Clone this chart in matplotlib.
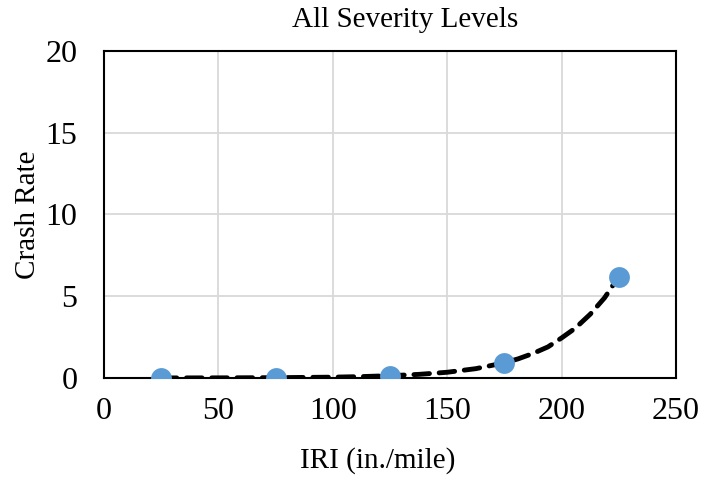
import numpy as np
import matplotlib.pyplot as plt

# IRI bins and crash rates (all severity levels)
iri = [25, 75, 125, 175, 225]
crash_rate = [0.01, 0.02, 0.12, 0.9, 6.2]

# exponential trend line
trend_x = [25, 50, 75, 100, 112.5, 125, 137.5, 150, 162.5, 175, 181, 187.5, 194, 200,
           206, 212.5, 218.75, 225]
trend_y = [0.003, 0.008, 0.02, 0.05, 0.085, 0.14, 0.22, 0.35, 0.57, 0.93, 1.17, 1.5, 1.9,
           2.45, 3.05, 3.9, 4.9, 6.2]

plt.rcParams['font.family'] = ['Liberation Serif', 'DejaVu Serif']

fig = plt.figure(figsize=(7.05, 4.82), dpi=100)
ax = fig.add_axes([0.1475, 0.2158, 0.8114, 0.6784])

ax.plot(trend_x, trend_y, color='black', linewidth=3.5, linestyle=(0, (3.2, 2.0)),
        dash_capstyle='round', zorder=3)
ax.plot(iri, crash_rate, 'o', color='#5b9bd5', markersize=15, markeredgewidth=0, zorder=4)

ax.set_xlim(0, 250)
ax.set_ylim(0, 20)
ax.set_xticks(np.arange(0, 251, 50))
ax.set_yticks(np.arange(0, 21, 5))
ax.grid(True, color='#d9d9d9', linewidth=1.3)
ax.set_axisbelow(True)
for s in ax.spines.values():
    s.set_color('black')
    s.set_linewidth(1.5)
ax.tick_params(axis='both', length=0, labelsize=23)
ax.tick_params(axis='x', pad=14)
ax.tick_params(axis='y', pad=19)

ax.set_title('All Severity Levels', fontsize=21, pad=17, x=0.526)
ax.set_xlabel('IRI (in./mile)', fontsize=21, labelpad=15, x=0.479)
ax.set_ylabel('Crash Rate', fontsize=21, labelpad=3)

plt.savefig('out.png', dpi=100)
